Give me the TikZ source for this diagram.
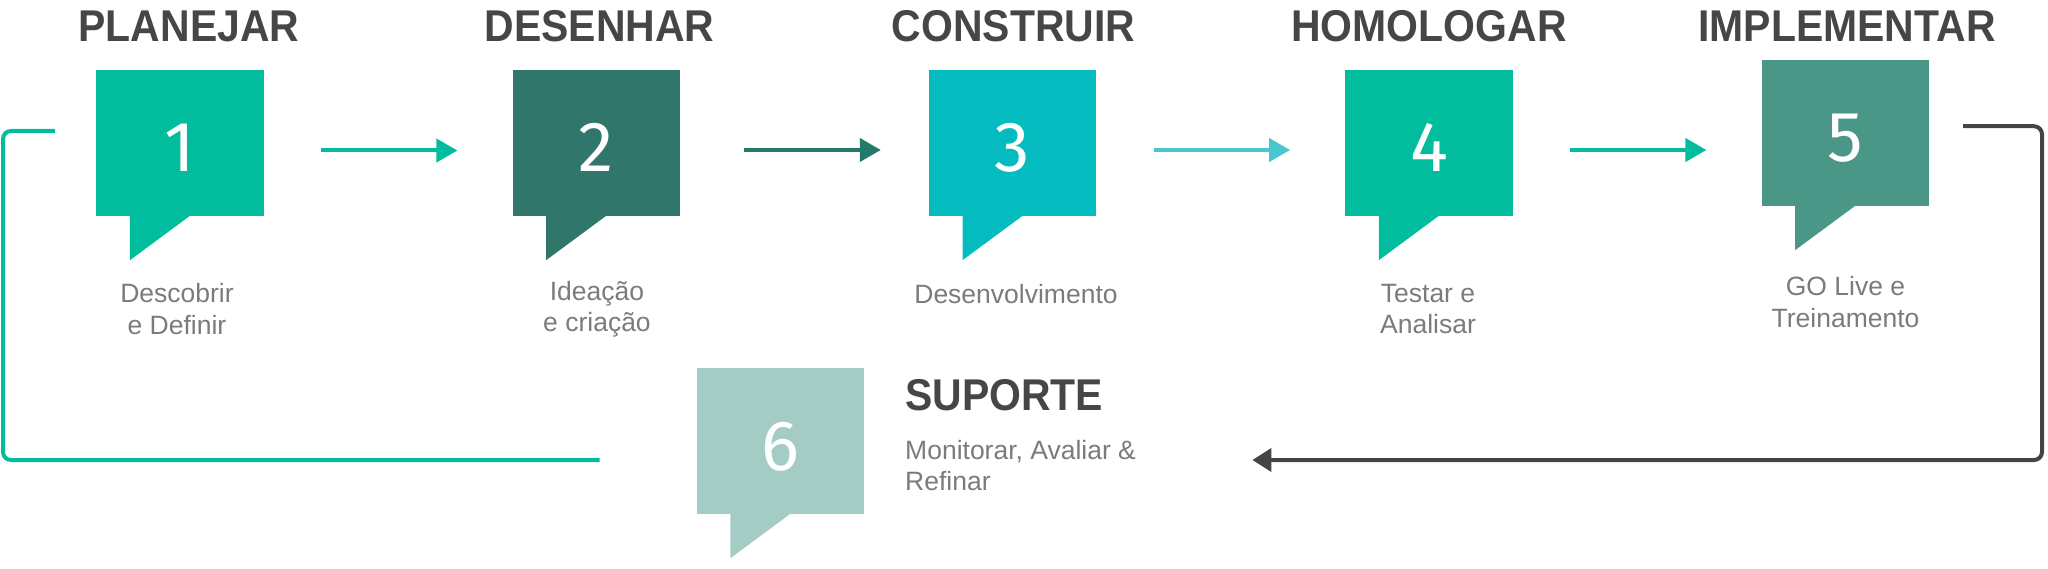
\documentclass[tikz,border=0pt]{standalone}
\usepackage{fontspec}
\setmainfont{Liberation Sans}
\newfontfamily\headfont{Liberation Sans}[FakeStretch=0.92]
\newfontfamily\numfont{Fira Sans}
\usetikzlibrary{arrows.meta}
\definecolor{planejar}{HTML}{02BD9D}
\definecolor{desenhar}{HTML}{30766A}
\definecolor{construir}{HTML}{04BCBF}
\definecolor{homologar}{HTML}{02BD9D}
\definecolor{implementar}{HTML}{4A9687}
\definecolor{suporte}{HTML}{A4CCC4}
\definecolor{flowdark}{HTML}{237A6A}
\definecolor{flowlight}{HTML}{4AC6CF}
\definecolor{gray4}{HTML}{444444}
\definecolor{headgray}{HTML}{464646}
\definecolor{subgray}{HTML}{7B7B7B}

\begin{document}
\begin{tikzpicture}
[x=1pt,y=-1pt,%
  bubble/.style={shape=rectangle,inner sep=0pt,minimum width=167.4pt,minimum height=146pt,
    text=white,font=\numfont\fontsize{71}{71}\selectfont,text height=58pt,text depth=0pt},%
  head/.style={anchor=base,inner sep=0pt,text=headgray,font=\headfont\bfseries\fontsize{44.5}{50}\selectfont},%
  sub/.style={align=center,inner sep=0pt,text=subgray,font=\fontsize{26.5}{31.5}\selectfont},%
  flow/.style={-{Triangle[length=21pt,width=23pt]},line width=4pt,shorten <=57pt,shorten >=55pt},%
  loop/.style={line width=4pt,rounded corners=8pt}]
\useasboundingbox (0,0) rectangle (2048,569);

% steps
\node[bubble,fill=planejar] (b1) at (180.1,143) {1};
\node[bubble,fill=desenhar] (b2) at (596.3,143) {2};
\node[bubble,fill=construir] (b3) at (1012.7,143) {3};
\node[bubble,fill=homologar] (b4) at (1429,143) {4};
\node[bubble,fill=implementar] (b5) at (1845.3,133) {5};
\node[bubble,fill=suporte] (b6) at (780.5,441) {6};

% tails
\fill[planejar] ([xshift=33.7pt,yshift=1pt]b1.south west) -- ++(0,45) -- ++(60.9,-45) -- cycle;
\fill[desenhar] ([xshift=33.7pt,yshift=1pt]b2.south west) -- ++(0,45) -- ++(60.9,-45) -- cycle;
\fill[construir] ([xshift=33.7pt,yshift=1pt]b3.south west) -- ++(0,45) -- ++(60.9,-45) -- cycle;
\fill[homologar] ([xshift=33.7pt,yshift=1pt]b4.south west) -- ++(0,45) -- ++(60.9,-45) -- cycle;
\fill[implementar] ([xshift=33.7pt,yshift=1pt]b5.south west) -- ++(0,45) -- ++(60.9,-45) -- cycle;
\fill[suporte] ([xshift=33.7pt,yshift=1pt]b6.south west) -- ++(0,45) -- ++(60.9,-45) -- cycle;

% titles
\node[head] (h1) at (189,42) {PLANEJAR};
\node[head] (h2) at (599.6,42) {DESENHAR};
\node[head] (h3) at (1013.5,42) {CONSTRUIR};
\node[head] (h4) at (1429,42) {HOMOLOGAR};
\node[head] (h5) at (1847,42) {IMPLEMENTAR};
\node[head,anchor=base west] (h6) at (905,410) {SUPORTE};

% captions
\node[sub] (s1) at (177,309) {Descobrir\\e Definir};
\node[sub] (s2) at (597,309) {Ideação\\e criação};
\node[sub] (s3) at (1016,294) {Desenvolvimento};
\node[sub] (s4) at (1428,309) {Testar e\\Analisar};
\node[sub] (s5) at (1845.5,302) {GO Live e\\Treinamento};
\node[sub,align=left,anchor=north west] (s6) at (905,440) {Monitorar, Avaliar \&\\Refinar};

% flow
\coordinate (f4) at ([yshift=-7pt]b4.east);
\draw[flow,planejar] ([yshift=-7.5pt]b1.east) -- ([yshift=-7.5pt]b2.west);
\draw[flow,flowdark,shorten <=64pt,shorten >=48pt] ([yshift=-7pt]b2.east) -- ([yshift=-7pt]b3.west);
\draw[flow,flowlight] ([yshift=-7pt]b3.east) -- ([yshift=-7pt]b4.west);
\draw[flow,homologar] (f4) -- (f4 -| b5.west);

% loop back
\coordinate (g5) at ([xshift=34pt,yshift=6.75pt]b5.east);
\coordinate (gr) at (2042,460);
\coordinate (g6) at ([xshift=388pt,yshift=-19pt]b6.east);
\draw[loop,gray4,-{Triangle[length=19pt,width=23pt]}] (g5) -| (gr) -- (g6);
\coordinate (t6) at ([xshift=-97pt,yshift=-19pt]b6.west);
\coordinate (tl) at (3,131);
\coordinate (t1) at ([xshift=-41.4pt,yshift=12pt]b1.west);
\draw[loop,planejar] (t6) -| (tl) -- (t1);
\end{tikzpicture}
\end{document}
